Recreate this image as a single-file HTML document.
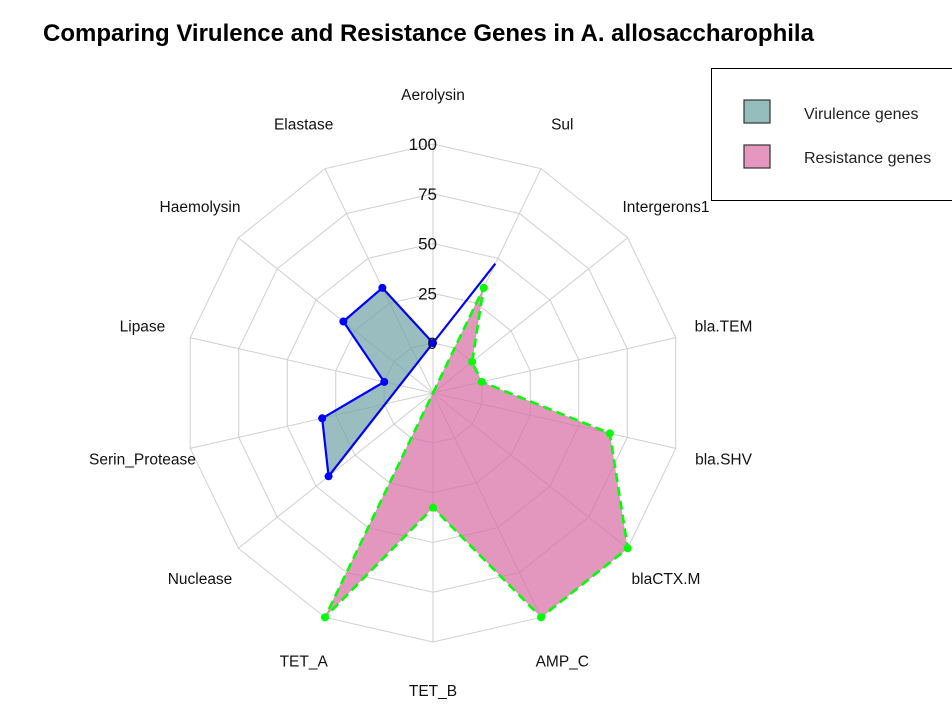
<!DOCTYPE html>
<html><head><meta charset="utf-8"><style>
body{margin:0;background:#fff;}
svg text{font-family:"Liberation Sans",sans-serif;}
</style></head><body>
<svg id="chart" width="952" height="722" viewBox="0 0 952 722" xmlns="http://www.w3.org/2000/svg">
<text x="43" y="41" font-size="24" font-weight="bold" fill="#000">Comparing Virulence and Resistance Genes in A. allosaccharophila</text>
<g id="grid"></g>
<g id="series"></g>
<g id="labels"></g>
<g>
<rect x="711.5" y="68.5" width="260" height="132" fill="#fff" stroke="#000" stroke-width="1"/>
<rect x="744" y="100" width="26" height="23" fill="#95BDBE" stroke="#333" stroke-width="1.2"/>
<text x="804" y="119" font-size="16" fill="#222">Virulence genes</text>
<rect x="744" y="145" width="26" height="23" fill="#E597BF" stroke="#333" stroke-width="1.2"/>
<text x="804" y="163" font-size="16" fill="#222">Resistance genes</text>
</g>
</svg>
<script>
const categories = ["Aerolysin","Sul","Intergerons1","bla.TEM","bla.SHV","blaCTX.M","AMP_C","TET_B","TET_A","Nuclease","Serin_Protease","Lipase","Haemolysin","Elastase"];
const virulence = [0,null,null,null,null,null,null,null,null,42,32,0,32.5,33.5];
const virulenceTail = [0,47];
const resistance = [null,33.5,0,0,66,100,100,32.5,100,null,null,null,null,null];
const tickLabels = ["0","25","50","75","100"];
const tickValues = [0,25,50,75,100];

const NS="http://www.w3.org/2000/svg";
const cx=433, cy=393, r0=50, rMax=249;
function rad(v){return r0+(rMax-r0)*v/100;}
function ang(i){return i*2*Math.PI/categories.length;}
function pt(i,v){const r=(v===null)?0:rad(v);const a=ang(i);return [cx+r*Math.sin(a), cy-r*Math.cos(a)];}
function mk(tag,attrs,parent){const e=document.createElementNS(NS,tag);for(const k in attrs)e.setAttribute(k,attrs[k]);parent.appendChild(e);return e;}
const grid=document.getElementById('grid'), ser=document.getElementById('series'), lab=document.getElementById('labels');
const n=categories.length;
tickValues.forEach((t,j)=>{
  const pts=categories.map((c,i)=>pt(i,t).join(',')).join(' ');
  const e=mk('polygon',{points:pts,fill:'none',stroke:'#cfcfcf','stroke-width':1},grid);
  
  
});
categories.forEach((c,i)=>{
  const p=pt(i,100);
  const e=mk('line',{x1:cx,y1:cy,x2:p[0],y2:p[1],stroke:'#cfcfcf','stroke-width':1},grid);
  
  
  const a=ang(i), R=298;
  const t=mk('text',{x:cx+R*Math.sin(a),y:cy-R*Math.cos(a)+5,'font-size':15.5,'text-anchor':'middle',fill:'#111'},lab);
  t.textContent=c;
  
  
});
const vpts=[];virulence.forEach((v,i)=>{if(v!==null)vpts.push([i,v]);});
const vorder=vpts.slice().sort((a,b)=>((a[0]===0?0:n-a[0])-(b[0]===0?0:n-b[0])));
const vp=mk('polygon',{points:vorder.map(d=>pt(d[0],d[1]).join(',')).join(' '),fill:'rgba(115,165,166,0.72)',stroke:'#0000ff','stroke-width':2.2,'stroke-linejoin':'round'},ser);


const ta=pt(0,virulenceTail[0]), tb=pt(1,virulenceTail[1]);
const vt=mk('line',{x1:ta[0],y1:ta[1],x2:tb[0],y2:tb[1],stroke:'#0000ff','stroke-width':2.2},ser);


const rpts=resistance.map((v,i)=>pt(i,v).join(',')).join(' ');
const rp=mk('polygon',{points:rpts,fill:'rgba(216,110,165,0.72)',stroke:'#00ff00','stroke-width':2.6,'stroke-dasharray':'9,5','stroke-linejoin':'round'},ser);


virulence.forEach((v,i)=>{if(v===null)return;const p=pt(i,v);
  const d=mk('circle',{cx:p[0],cy:p[1],r:4,fill:'#0000ff'},ser);
  
  });
resistance.forEach((v,i)=>{if(v===null)return;const p=pt(i,v);
  const d=mk('circle',{cx:p[0],cy:p[1],r:4,fill:'#00ff00'},ser);
  
  });
tickLabels.forEach((t,j)=>{
  const e=mk('text',{x:437,y:cy-rad(tickValues[j])+6,'font-size':17,'text-anchor':'end',fill:'#111'},lab);
  e.textContent=t;
  
  
});
</script>
</body></html>
